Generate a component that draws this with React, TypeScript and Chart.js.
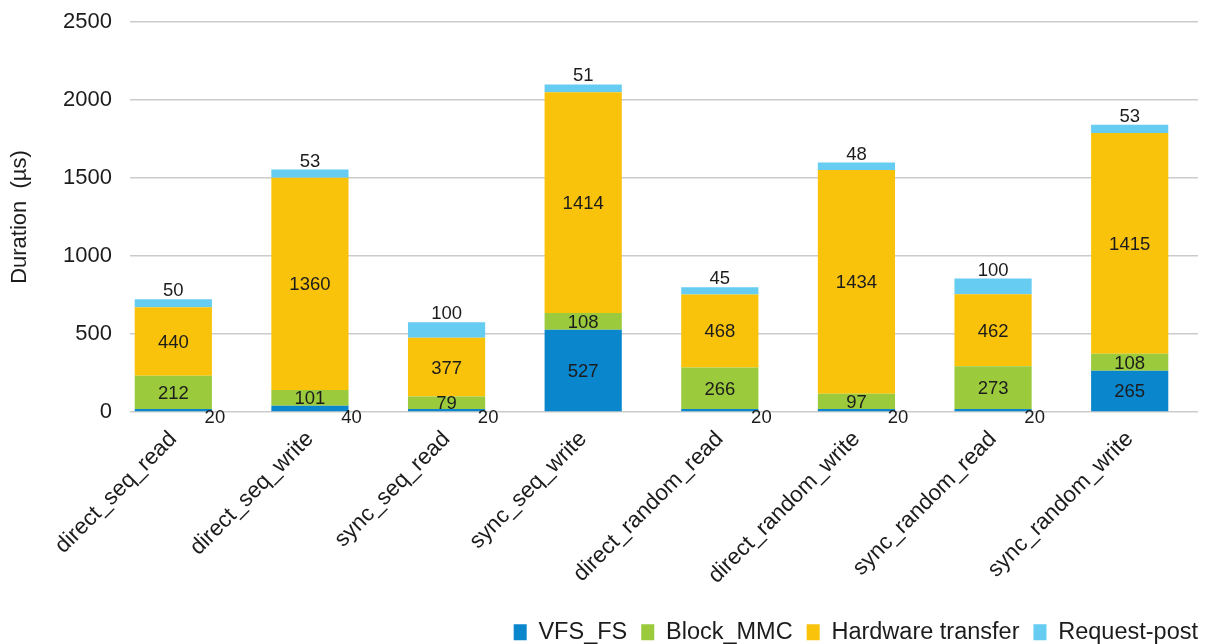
import React, { useEffect, useRef } from 'react';
import { Chart, registerables } from 'chart.js';

Chart.register(...registerables);

const categories = [
  'direct_seq_read',
  'direct_seq_write',
  'sync_seq_read',
  'sync_seq_write',
  'direct_random_read',
  'direct_random_write',
  'sync_random_read',
  'sync_random_write',
];
const seriesNames = ['VFS_FS', 'Block_MMC', 'Hardware transfer', 'Request-post'];
const vfsFs = [20, 40, 20, 527, 20, 20, 20, 265];
const blockMmc = [212, 101, 79, 108, 266, 97, 273, 108];
const hardwareTransfer = [440, 1360, 377, 1414, 468, 1434, 462, 1415];
const requestPost = [50, 53, 100, 51, 45, 48, 100, 53];
const yMin = 0;
const yMax = 2500;
const yStep = 500;
const yAxisTitle = 'Duration  (µs)';

const COLORS = ['#0A86CD', '#9BCA3C', '#F9C30C', '#66CCF2'];
const FONT = '"Liberation Sans", Arial, sans-serif';
const TEXT = '#1c1c1c';
const GRID = '#cbcbcb';
const BAR_AREA_LEFT = 105;
const LEGEND_PAD = 14;

const labelPlugin = {
  id: 'barLabels',
  afterDatasetsDraw(chart: any) {
    const { ctx, scales } = chart;
    const zeroY = scales.y.getPixelForValue(0);
    ctx.save();
    ctx.fillStyle = TEXT;
    ctx.font = `18.5px ${FONT}`;
    ctx.textAlign = 'center';
    ctx.textBaseline = 'alphabetic';
    chart.data.datasets.forEach((ds: any, di: number) => {
      const meta = chart.getDatasetMeta(di);
      meta.data.forEach((bar: any, i: number) => {
        const v = ds.data[i];
        const p = bar.getProps(['x', 'y', 'base', 'width'], true);
        const text = String(v);
        if (di === 0 && v < 100) {
          ctx.fillText(text, p.x + p.width / 2 + 3, zeroY + 11);
        } else if (di === 3) {
          ctx.fillText(text, p.x, p.y - 3);
        } else {
          ctx.fillText(text, p.x, (p.y + p.base) / 2 + 6.5);
        }
      });
    });
    ctx.restore();
  },
};

const layoutTweakPlugin = {
  id: 'layoutTweak',
  afterLayout(chart: any) {
    const x = chart.scales.x;
    if (x) {
      x.left = BAR_AREA_LEFT;
      x.width = x.right - x.left;
      x.configure();
    }
    const lg = chart.legend;
    if (lg) {
      lg.left += LEGEND_PAD;
      lg.right += LEGEND_PAD;
      lg.top += 10;
      lg.bottom += 10;
    }
  },
};

export default function App() {
  const ref = useRef<HTMLCanvasElement | null>(null);

  useEffect(() => {
    if (!ref.current) return;
    const seriesData = [vfsFs, blockMmc, hardwareTransfer, requestPost];
    const chart = new Chart(ref.current, {
      type: 'bar',
      data: {
        labels: categories,
        datasets: seriesNames.map((name, i) => ({
          label: name,
          data: seriesData[i],
          backgroundColor: COLORS[i],
          borderWidth: 0,
          barPercentage: 0.565,
          categoryPercentage: 1,
        })),
      },
      options: {
        animation: false,
        responsive: false,
        maintainAspectRatio: false,
        layout: { padding: { top: 22, right: 9, left: 0, bottom: 0 } },
        plugins: {
          tooltip: { enabled: false },
          legend: {
            position: 'bottom',
            align: 'end',
            labels: {
              boxWidth: 13,
              boxHeight: 16,
              padding: LEGEND_PAD,
              color: TEXT,
              font: { family: FONT, size: 23.5 },
            },
          },
        },
        scales: {
          x: {
            stacked: true,
            grid: { display: false },
            border: { display: false },
            ticks: {
              color: TEXT,
              font: { family: FONT, size: 22.5 },
              minRotation: 45,
              maxRotation: 45,
              padding: 6,
              autoSkip: false,
            },
            afterFit(scale: any) {
              scale.height = 184.5;
              scale.paddingLeft = 0;
              scale.paddingRight = 0;
            },
          },
          y: {
            stacked: true,
            min: yMin,
            max: yMax,
            grid: { display: true, drawTicks: false, color: GRID, lineWidth: 1.5 },
            border: { display: false },
            ticks: {
              stepSize: yStep,
              color: TEXT,
              font: { family: FONT, size: 22 },
              padding: 18,
              callback: (v: any) => String(v),
            },
            title: {
              display: true,
              text: yAxisTitle,
              color: TEXT,
              font: { family: FONT, size: 22 },
              padding: { top: 7, bottom: 0 },
            },
            afterFit(scale: any) {
              scale.width = 130;
              scale.paddingTop = 0;
              scale.paddingBottom = 0;
            },
          },
        },
      },
      plugins: [labelPlugin, layoutTweakPlugin],
    });
    return () => chart.destroy();
  }, []);

  return (
    <div style={{ position: 'fixed', left: 0, top: 0, width: 1207, height: 644, background: '#fff' }}>
      <canvas ref={ref} width={1207} height={644} style={{ width: 1207, height: 644 }} />
    </div>
  );
}
